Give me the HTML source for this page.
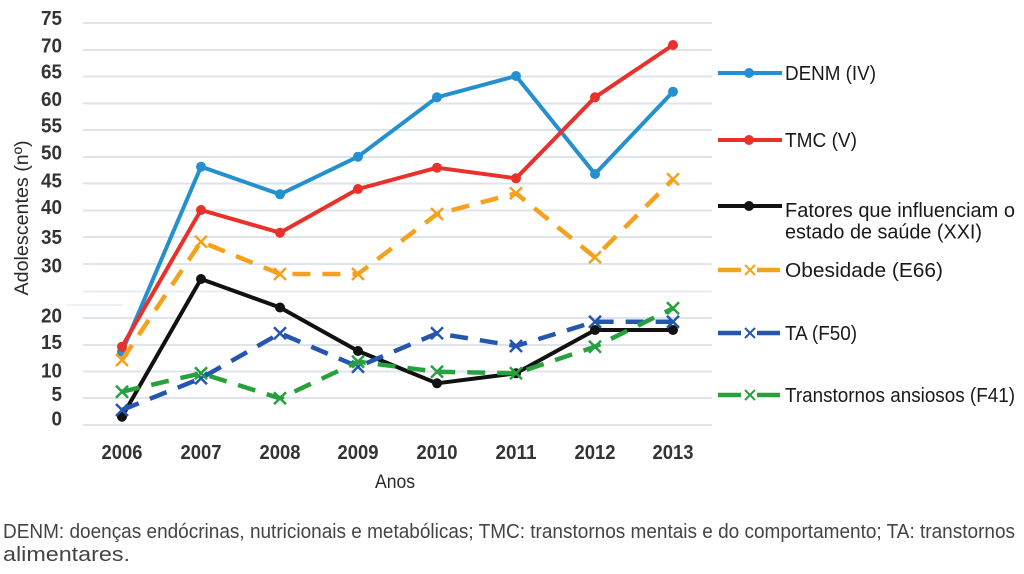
<!DOCTYPE html>
<html>
<head>
<meta charset="utf-8">
<style>
  html, body { margin: 0; padding: 0; background: #ffffff; }
  svg { display: block; }
</style>
</head>
<body>
<svg width="1024" height="574" viewBox="0 0 1024 574" xmlns="http://www.w3.org/2000/svg" font-family="'Liberation Sans', sans-serif">
  <rect x="0" y="0" width="1024" height="574" fill="#ffffff"/>

  <!-- gridlines -->
  <g stroke="#dfe4ea" stroke-width="2">
    <line x1="83" y1="23" x2="712" y2="23"/>
    <line x1="83" y1="50" x2="712" y2="50"/>
    <line x1="83" y1="76.5" x2="712" y2="76.5"/>
    <line x1="83" y1="103.5" x2="712" y2="103.5"/>
    <line x1="83" y1="130" x2="712" y2="130"/>
    <line x1="83" y1="157" x2="712" y2="157"/>
    <line x1="83" y1="183.5" x2="712" y2="183.5"/>
    <line x1="83" y1="210.5" x2="712" y2="210.5"/>
    <line x1="83" y1="237" x2="712" y2="237"/>
    <line x1="83" y1="264" x2="712" y2="264"/>
    <line x1="83" y1="291.5" x2="712" y2="291.5" stroke="#e8ecf0"/>
    <line x1="66" y1="305" x2="123" y2="305" stroke="#eef1f4"/>
    <line x1="83" y1="318" x2="712" y2="318"/>
    <line x1="83" y1="345" x2="712" y2="345"/>
    <line x1="83" y1="371.5" x2="712" y2="371.5"/>
    <line x1="83" y1="398" x2="712" y2="398"/>
    <line x1="83" y1="425" x2="712" y2="425"/>
  </g>

  <!-- y tick labels -->
  <g font-size="20" font-weight="bold" fill="#333333" text-anchor="end">
    <text x="62" y="25" textLength="21" lengthAdjust="spacingAndGlyphs">75</text>
    <text x="62" y="52.5" textLength="21" lengthAdjust="spacingAndGlyphs">70</text>
    <text x="62" y="78.5" textLength="21" lengthAdjust="spacingAndGlyphs">65</text>
    <text x="62" y="106" textLength="21" lengthAdjust="spacingAndGlyphs">60</text>
    <text x="62" y="132.5" textLength="21" lengthAdjust="spacingAndGlyphs">55</text>
    <text x="62" y="159.5" textLength="21" lengthAdjust="spacingAndGlyphs">50</text>
    <text x="62" y="187.5" textLength="21" lengthAdjust="spacingAndGlyphs">45</text>
    <text x="62" y="214" textLength="21" lengthAdjust="spacingAndGlyphs">40</text>
    <text x="62" y="244" textLength="21" lengthAdjust="spacingAndGlyphs">35</text>
    <text x="62" y="272.5" textLength="21" lengthAdjust="spacingAndGlyphs">30</text>
    <text x="62" y="322.5" textLength="21" lengthAdjust="spacingAndGlyphs">20</text>
    <text x="62" y="349" textLength="21" lengthAdjust="spacingAndGlyphs">15</text>
    <text x="62" y="377.5" textLength="21" lengthAdjust="spacingAndGlyphs">10</text>
    <text x="62" y="401" textLength="10.5" lengthAdjust="spacingAndGlyphs">5</text>
    <text x="62" y="425.5" textLength="10.5" lengthAdjust="spacingAndGlyphs">0</text>
  </g>

  <!-- y axis title -->
  <text transform="translate(28,218) rotate(-90)" font-size="19" fill="#2a2a2a" text-anchor="middle" textLength="155" lengthAdjust="spacingAndGlyphs">Adolescentes  (nº)</text>

  <!-- x labels -->
  <g font-size="20" font-weight="bold" fill="#333333" text-anchor="middle">
    <text x="122" y="459" textLength="41" lengthAdjust="spacingAndGlyphs">2006</text>
    <text x="201" y="459" textLength="41" lengthAdjust="spacingAndGlyphs">2007</text>
    <text x="280" y="459" textLength="41" lengthAdjust="spacingAndGlyphs">2008</text>
    <text x="358" y="459" textLength="41" lengthAdjust="spacingAndGlyphs">2009</text>
    <text x="437" y="459" textLength="41" lengthAdjust="spacingAndGlyphs">2010</text>
    <text x="516" y="459" textLength="41" lengthAdjust="spacingAndGlyphs">2011</text>
    <text x="595" y="459" textLength="41" lengthAdjust="spacingAndGlyphs">2012</text>
    <text x="673" y="459" textLength="41" lengthAdjust="spacingAndGlyphs">2013</text>
  </g>
  <text x="395" y="488" font-size="19.5" fill="#2a2a2a" text-anchor="middle" textLength="40" lengthAdjust="spacingAndGlyphs">Anos</text>

  <!-- DENM -->
  <polyline fill="none" stroke="#2490d0" stroke-width="4" stroke-linejoin="round"
    points="122,351.7 201,166.7 280,194.3 358,156.7 437,97.3 516,76 595,174 673,91.7"/>
  <g fill="#2490d0">
    <circle cx="122" cy="351.7" r="5"/><circle cx="201" cy="166.7" r="5"/><circle cx="280" cy="194.3" r="5"/><circle cx="358" cy="156.7" r="5"/>
    <circle cx="437" cy="97.3" r="5"/><circle cx="516" cy="76" r="5"/><circle cx="595" cy="174" r="5"/><circle cx="673" cy="91.7" r="5"/>
  </g>

  <!-- TMC -->
  <polyline fill="none" stroke="#e8312b" stroke-width="4" stroke-linejoin="round"
    points="122,346.7 201,210 280,232.7 358,189 437,167.7 516,178.3 595,97.3 673,45"/>
  <g fill="#e8312b">
    <circle cx="122" cy="346.7" r="5"/><circle cx="201" cy="210" r="5"/><circle cx="280" cy="232.7" r="5"/><circle cx="358" cy="189" r="5"/>
    <circle cx="437" cy="167.7" r="5"/><circle cx="516" cy="178.3" r="5"/><circle cx="595" cy="97.3" r="5"/><circle cx="673" cy="45" r="5"/>
  </g>

  <!-- Fatores -->
  <polyline fill="none" stroke="#111111" stroke-width="4" stroke-linejoin="round"
    points="122,416.7 201,279 280,307.5 358,351 437,383.3 516,373.3 595,330 673,330"/>
  <g fill="#111111">
    <circle cx="122" cy="416.7" r="5"/><circle cx="201" cy="279" r="5"/><circle cx="280" cy="307.5" r="5"/><circle cx="358" cy="351" r="5"/>
    <circle cx="437" cy="383.3" r="5"/><circle cx="516" cy="373.3" r="5"/><circle cx="595" cy="330" r="5"/><circle cx="673" cy="330" r="5"/>
  </g>

  <!-- Obesidade -->
  <polyline fill="none" stroke="#f4a21e" stroke-width="4.5" stroke-dasharray="18,12" stroke-linejoin="round"
    points="122,360 201,241.7 280,274 358,274 437,214 516,193.3 595,257.3 673,179.3"/>
  <g stroke="#f4a21e" stroke-width="2.5" fill="none">
    <path d="M116,354 l12,12 M128,354 l-12,12"/>
    <path d="M195,235.7 l12,12 M207,235.7 l-12,12"/>
    <path d="M274,268 l12,12 M286,268 l-12,12"/>
    <path d="M352,268 l12,12 M364,268 l-12,12"/>
    <path d="M431,208 l12,12 M443,208 l-12,12"/>
    <path d="M510,187.3 l12,12 M522,187.3 l-12,12"/>
    <path d="M589,251.3 l12,12 M601,251.3 l-12,12"/>
    <path d="M667,173.3 l12,12 M679,173.3 l-12,12"/>
  </g>

  <!-- TA -->
  <polyline fill="none" stroke="#2456b0" stroke-width="4.5" stroke-dasharray="18,12" stroke-linejoin="round"
    points="122,410 201,378.3 280,333.3 358,366.7 437,333.3 516,346 595,321.7 673,321.7"/>
  <g stroke="#2456b0" stroke-width="2.5" fill="none">
    <path d="M116,404 l12,12 M128,404 l-12,12"/>
    <path d="M195,372.3 l12,12 M207,372.3 l-12,12"/>
    <path d="M274,327.3 l12,12 M286,327.3 l-12,12"/>
    <path d="M352,360.7 l12,12 M364,360.7 l-12,12"/>
    <path d="M431,327.3 l12,12 M443,327.3 l-12,12"/>
    <path d="M510,340 l12,12 M522,340 l-12,12"/>
    <path d="M589,315.7 l12,12 M601,315.7 l-12,12"/>
    <path d="M667,315.7 l12,12 M679,315.7 l-12,12"/>
  </g>

  <!-- Transtornos ansiosos -->
  <polyline fill="none" stroke="#27a03e" stroke-width="4.5" stroke-dasharray="18,12" stroke-linejoin="round"
    points="122,391.7 201,373.3 280,398.3 358,361.7 437,371.7 516,373.3 595,346.7 673,308.3"/>
  <g stroke="#27a03e" stroke-width="2.5" fill="none">
    <path d="M116,385.7 l12,12 M128,385.7 l-12,12"/>
    <path d="M195,367.3 l12,12 M207,367.3 l-12,12"/>
    <path d="M274,392.3 l12,12 M286,392.3 l-12,12"/>
    <path d="M352,355.7 l12,12 M364,355.7 l-12,12"/>
    <path d="M431,365.7 l12,12 M443,365.7 l-12,12"/>
    <path d="M510,367.3 l12,12 M522,367.3 l-12,12"/>
    <path d="M589,340.7 l12,12 M601,340.7 l-12,12"/>
    <path d="M667,302.3 l12,12 M679,302.3 l-12,12"/>
  </g>

  <!-- Legend -->
  <g font-size="20" fill="#1a1a1a">
    <line x1="718" y1="73" x2="782" y2="73" stroke="#2490d0" stroke-width="4"/>
    <circle cx="749" cy="73" r="5" fill="#2490d0"/>
    <text x="785" y="80" textLength="91" lengthAdjust="spacingAndGlyphs">DENM (IV)</text>

    <line x1="718" y1="140" x2="782" y2="140" stroke="#e8312b" stroke-width="4"/>
    <circle cx="749" cy="140" r="5" fill="#e8312b"/>
    <text x="785" y="147" textLength="72" lengthAdjust="spacingAndGlyphs">TMC (V)</text>

    <line x1="718" y1="206" x2="782" y2="206" stroke="#111" stroke-width="4"/>
    <circle cx="749" cy="206" r="5" fill="#111"/>
    <text x="785" y="217" textLength="230" lengthAdjust="spacingAndGlyphs">Fatores que influenciam o</text>
    <text x="785" y="238.5" textLength="197" lengthAdjust="spacingAndGlyphs">estado de saúde (XXI)</text>

    <line x1="718" y1="270" x2="741" y2="270" stroke="#f4a21e" stroke-width="4.5"/>
    <line x1="757" y1="270" x2="780" y2="270" stroke="#f4a21e" stroke-width="4.5"/>
    <path d="M745,265 l10,10 M755,265 l-10,10" stroke="#f4a21e" stroke-width="2" fill="none"/>
    <text x="785" y="277" textLength="158" lengthAdjust="spacingAndGlyphs">Obesidade (E66)</text>

    <line x1="718" y1="333" x2="741" y2="333" stroke="#2456b0" stroke-width="4.5"/>
    <line x1="757" y1="333" x2="780" y2="333" stroke="#2456b0" stroke-width="4.5"/>
    <path d="M745,328 l10,10 M755,328 l-10,10" stroke="#2456b0" stroke-width="2" fill="none"/>
    <text x="785" y="340" textLength="72" lengthAdjust="spacingAndGlyphs">TA (F50)</text>

    <line x1="718" y1="395" x2="741" y2="395" stroke="#27a03e" stroke-width="4.5"/>
    <line x1="757" y1="395" x2="780" y2="395" stroke="#27a03e" stroke-width="4.5"/>
    <path d="M745,390 l10,10 M755,390 l-10,10" stroke="#27a03e" stroke-width="2" fill="none"/>
    <text x="785" y="402" textLength="230" lengthAdjust="spacingAndGlyphs">Transtornos ansiosos (F41)</text>
  </g>

  <!-- Caption -->
  <g font-size="20" fill="#444">
    <text x="3" y="538" textLength="1012" lengthAdjust="spacingAndGlyphs">DENM: doenças endócrinas, nutricionais e metabólicas; TMC: transtornos mentais e do comportamento; TA: transtornos</text>
    <text x="3" y="561" textLength="127" lengthAdjust="spacingAndGlyphs">alimentares.</text>
  </g>
</svg>
</body>
</html>
